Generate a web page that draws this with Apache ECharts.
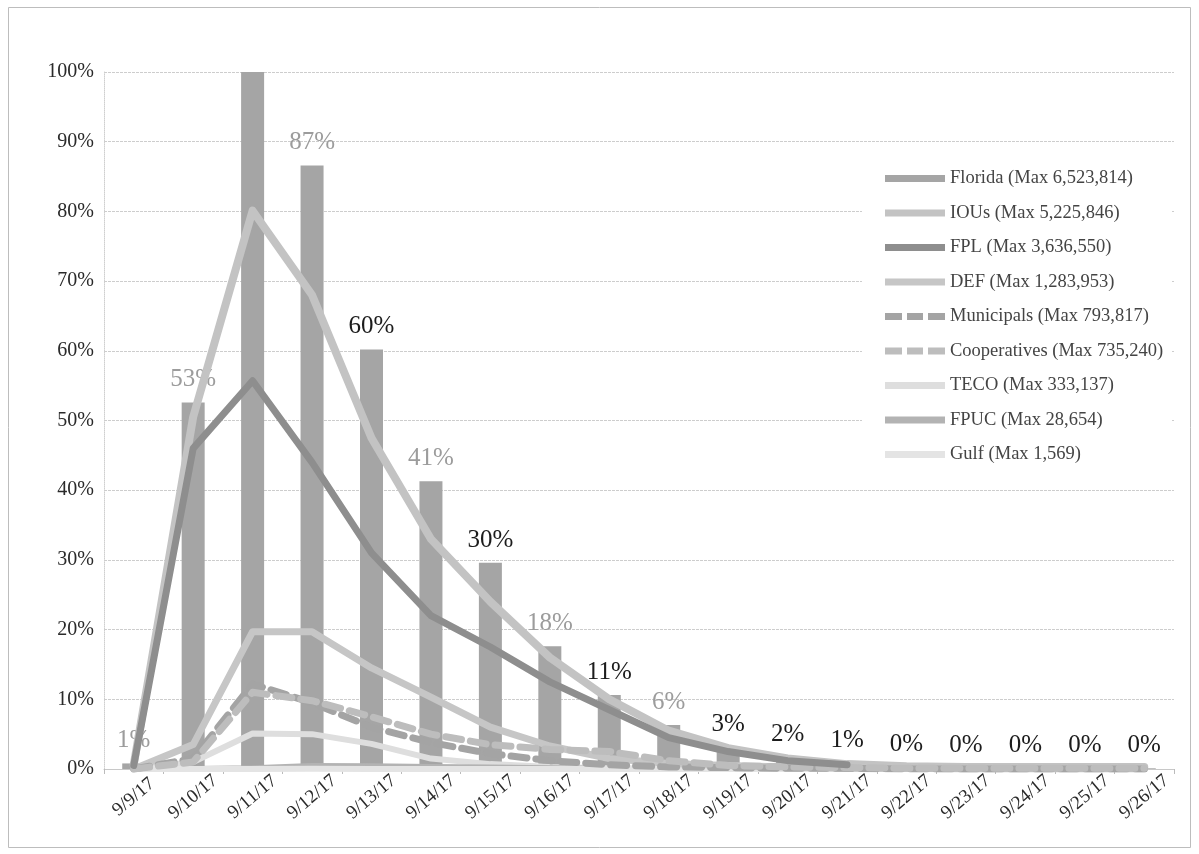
<!DOCTYPE html>
<html>
<head>
<meta charset="utf-8">
<script src="https://cdn.jsdelivr.net/npm/echarts@6/dist/echarts.min.js"></script>
<style>
html,body{margin:0;padding:0;background:#fff;}
#chart{width:1199px;height:854px;}
</style>
</head>
<body>
<div id="chart"></div>
<script>
// ---- data (percent of Florida peak outages) ----
const categories = ['9/9/17','9/10/17','9/11/17','9/12/17','9/13/17','9/14/17','9/15/17','9/16/17','9/17/17','9/18/17','9/19/17','9/20/17','9/21/17','9/22/17','9/23/17','9/24/17','9/25/17','9/26/17'];
const seriesNames = ['Florida (Max 6,523,814)','IOUs (Max 5,225,846)','FPL (Max 3,636,550)','DEF (Max 1,283,953)','Municipals (Max 793,817)','Cooperatives (Max 735,240)','TECO (Max 333,137)','FPUC (Max 28,654)','Gulf (Max 1,569)'];
const florida      = [0.8, 52.6, 100, 86.6, 60.2, 41.3, 29.6, 17.6, 10.6, 6.3, 3.2, 1.8, 0.9, 0.3, 0.2, 0.2, 0.1, 0.1];
const ious         = [0.6, 50.5, 80.1, 68, 47.5, 33, 24, 16, 10, 5.5, 3, 1.5, 0.7, 0.4, 0.3, 0.3, 0.3, 0.3];
const fpl          = [0.5, 46, 55.7, 44, 31, 22, 17.5, 12.5, 8.5, 4.5, 2.5, 1.2, 0.6, null, null, null, null, null];
const def          = [0, 3.5, 19.7, 19.7, 14.5, 10.3, 6, 3.3, 1.5, 0.8, 0.5, 0.3, 0.1, 0.1, 0, 0, 0, 0];
const municipals   = [0, 1.5, 12.2, 9.5, 6, 3.8, 2.2, 1.2, 0.6, 0.3, 0.2, 0.1, 0.1, 0, 0, 0, 0, 0];
const cooperatives = [0, 1, 11, 9.8, 7.5, 5, 3.5, 2.8, 2.5, 1.2, 0.5, 0.3, 0.2, 0.1, 0.1, 0.1, 0.1, 0.1];
const teco         = [0, 1, 5.1, 5, 3.6, 1.5, 0.7, 0.3, 0.1, 0, 0, 0, 0, 0, 0, 0, 0, 0];
const fpuc         = [0, 0, 0.1, 0.44, 0.4, 0.3, 0.2, 0.1, 0, 0, 0, 0, 0, 0, 0, 0, 0, 0];
const gulf         = [0, 0, 0, 0.02, 0.01, 0, 0, 0, 0, 0, 0, 0, 0, 0, 0, 0, 0, 0];
const yTicks = [0, 10, 20, 30, 40, 50, 60, 70, 80, 90, 100];

// ---- styling ----
const FONT = '"Liberation Serif", "Times New Roman", serif';
const grayLabelIdx = [0, 1, 3, 5, 7, 9];
const hiddenLabelIdx = [2];
const DASH_ICON = 'path://M0,0H17V7H0Z M22,0H38V7H22Z M43,0H60V7H43Z';
const dashedSeries = [4, 5];

const barData = florida.map((v, i) => ({
  value: v,
  label: {
    show: hiddenLabelIdx.indexOf(i) < 0,
    color: grayLabelIdx.indexOf(i) >= 0 ? '#9c9c9c' : '#1c1c1c'
  }
}));

function lineSeries(name, data, color, width, dashed, z) {
  return {
    name: name, type: 'line', data: data, symbol: 'none', z: z,
    connectNulls: false,
    lineStyle: { color: color, width: width, type: dashed ? [16, 9] : 'solid', cap: 'round', join: 'round' },
    itemStyle: { color: color }
  };
}

const legendData = seriesNames.map((n, i) => ({
  name: n,
  icon: dashedSeries.indexOf(i) >= 0 ? DASH_ICON : 'rect'
}));

const chart = echarts.init(document.getElementById('chart'), null, { renderer: 'canvas' });
chart.setOption({
  backgroundColor: '#ffffff',
  animation: false,
  textStyle: { fontFamily: FONT },
  graphic: [{
    type: 'rect', shape: { x: 8.5, y: 7.5, width: 1182, height: 840 },
    style: { fill: 'none', stroke: '#bdbdbd', lineWidth: 1 }, z: -10
  }],
  grid: { left: 104, right: 25, top: 72, bottom: 85, containLabel: false },
  legend: {
    orient: 'vertical', left: 862, top: 160,
    padding: [9, 8, 26, 23],
    backgroundColor: '#ffffff',
    itemWidth: 60, itemHeight: 7, itemGap: 15.5,
    textStyle: { fontFamily: FONT, fontSize: 18.5, color: '#444444', lineHeight: 19 },
    data: legendData
  },
  xAxis: {
    type: 'category', data: categories, boundaryGap: true,
    axisLine: { show: true, lineStyle: { color: '#c8c8c8', width: 1 } },
    axisTick: { show: true, alignWithLabel: false, length: 5, lineStyle: { color: '#bbbbbb' } },
    axisLabel: {
      rotate: 40, interval: 0, margin: 28, align: 'center', verticalAlign: 'middle',
      fontFamily: FONT, fontSize: 19, color: '#2a2a2a'
    }
  },
  yAxis: {
    type: 'value', min: 0, max: 100, interval: 10,
    axisLine: { show: true, lineStyle: { color: '#cfcfcf', width: 1, type: 'dotted' } },
    axisTick: { show: false },
    splitLine: { show: true, lineStyle: { color: '#cdcdcd', width: 1, type: [3, 1] } },
    axisLabel: {
      margin: 10, fontFamily: FONT, fontSize: 20, color: '#2a2a2a',
      formatter: v => (yTicks.indexOf(v) >= 0 ? v + '%' : '')
    }
  },
  series: [
    {
      name: seriesNames[0], type: 'bar', data: barData, barWidth: 23, z: 2,
      itemStyle: { color: '#a5a5a5' },
      label: {
        show: true, position: 'top', distance: 10,
        fontFamily: FONT, fontSize: 25,
        formatter: p => Math.round(p.value) + '%'
      }
    },
    lineSeries(seriesNames[1], ious, '#c3c3c3', 8, false, 5),
    lineSeries(seriesNames[2], fpl, '#8e8e8e', 7, false, 6),
    lineSeries(seriesNames[3], def, '#c6c6c6', 7, false, 5),
    lineSeries(seriesNames[4], municipals, '#a4a4a4', 7, true, 5),
    lineSeries(seriesNames[5], cooperatives, '#bdbdbd', 7, true, 5),
    lineSeries(seriesNames[6], teco, '#dedede', 6, false, 4),
    lineSeries(seriesNames[7], fpuc, '#b3b3b3', 6, false, 4),
    lineSeries(seriesNames[8], gulf, '#e4e4e4', 6, false, 4)
  ]
});
</script>
</body>
</html>
